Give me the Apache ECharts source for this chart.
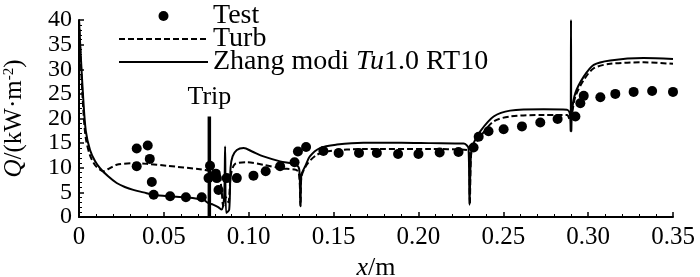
<!DOCTYPE html>
<html><head><meta charset="utf-8">
<script src="https://cdn.jsdelivr.net/npm/echarts@6/dist/echarts.min.js"></script>
<style>html,body{margin:0;padding:0;background:#fff}#c{width:700px;height:277px}</style>
</head><body><div id="c"></div>
<script>
const xTicks = [0, 0.05, 0.10, 0.15, 0.20, 0.25, 0.30, 0.35];
const yTicks = [0, 5, 10, 15, 20, 25, 30, 35, 40];
const testX = [0.034,0.034,0.0405,0.0417,0.0429,0.044,0.0537,0.063,0.0723,0.0772,0.0763,0.0812,0.0806,0.0822,0.087,0.093,0.1028,0.110,0.1185,0.127,0.129,0.1338,0.144,0.153,0.165,0.1755,0.188,0.200,0.2125,0.2236,0.2325,0.2355,0.2413,0.2502,0.261,0.2718,0.282,0.2925,0.2954,0.2974,0.3072,0.316,0.3268,0.3377,0.35];
const testY = [10.3,13.9,14.5,11.8,7.1,4.5,4.2,4.0,4.0,10.4,7.9,7.9,8.8,5.5,7.9,7.9,8.4,9.3,10.3,11.1,13.3,14.2,13.4,13.0,13.0,13.0,12.8,12.8,13.1,13.2,14.1,16.3,17.4,17.8,18.4,19.2,19.9,20.4,23.1,24.6,24.3,25.0,25.4,25.6,25.4];
const turbX = [0,0.001,0.0025,0.004,0.0065,0.0095,0.0124,0.0143,0.017,0.0222,0.032,0.04,0.0517,0.0713,0.0792,0.082,0.084,0.085,0.0865,0.088,0.0895,0.092,0.0988,0.1087,0.1185,0.1293,0.1305,0.131,0.1342,0.140,0.148,0.1676,0.207,0.2286,0.2298,0.2303,0.231,0.2325,0.2364,0.2443,0.254,0.2738,0.2875,0.2895,0.2905,0.2925,0.2974,0.3033,0.313,0.3327,0.35];
const turbY = [40,32,22,16,12.5,10.5,9.6,9.3,9.7,10.6,10.9,10.8,10.4,9.7,9.3,9.4,5.5,2.2,4,3,8.5,10.8,11.1,10.6,9.9,9.2,2.2,8,10.6,12.6,13.4,13.8,13.8,13.6,13,2.5,12.5,14.3,16.3,19.4,20.4,20.7,20.7,19.5,21,24.5,27.8,30.2,31.1,31.4,31.1];
const zhangX = [0,0.001,0.0025,0.004,0.0065,0.0095,0.0124,0.017,0.0222,0.027,0.032,0.038,0.044,0.053,0.063,0.0733,0.0763,0.079,0.082,0.084,0.0855,0.0861,0.0867,0.0885,0.0893,0.0905,0.093,0.097,0.102,0.1087,0.1185,0.128,0.1298,0.1305,0.131,0.1333,0.136,0.142,0.152,0.1676,0.19,0.207,0.2266,0.2295,0.2301,0.231,0.2325,0.2364,0.2443,0.254,0.2738,0.2875,0.2893,0.2897,0.2899,0.2901,0.2905,0.2925,0.2974,0.3033,0.313,0.3327,0.35];
const zhangY = [40,33,24,17.5,13.6,11.3,9.9,8.3,6.9,6.1,5.5,5.0,4.5,4.2,4.0,3.5,2.8,2.5,2.0,1.5,4,14.3,0.8,1.5,10,12.3,13.6,14.0,13.3,12.3,11.3,10.6,9.6,2.2,8.5,10.3,12.3,14.0,14.7,15.1,15.1,15.0,14.9,14.0,2.5,13,15.0,17.4,20.4,21.6,21.9,21.8,20.8,17.4,40,17.4,21.5,25.2,28.5,30.9,31.8,32.3,32.1];
const tripX = [0.0768, 0.0768];
const tripY = [0, 20.4];
const legendNames = ['Test', 'Turb', 'Zhang modi Tu1.0 RT10'];

const zip = (a, b) => a.map((v, i) => [v, b[i]]);
const FONT = 'Liberation Serif';
const chart = echarts.init(document.getElementById('c'), null, {renderer: 'canvas'});
chart.setOption({
  animation: false,
  backgroundColor: '#fff',
  textStyle: {fontFamily: FONT, color: '#000'},
  grid: {left: 79, right: 27, top: 20, bottom: 60, outerBoundsMode: 'none', containLabel: false},
  legend: {
    orient: 'vertical', left: 113, top: -3, itemWidth: 89, itemHeight: 10, itemGap: -5,
    data: [
      {name: legendNames[0]},
      {name: legendNames[1], itemStyle: {opacity: 0}},
      {name: legendNames[2], itemStyle: {opacity: 0}}
    ],
    textStyle: {fontFamily: FONT, fontSize: 28, lineHeight: 25, color: '#000', padding: [0,0,0,0],
      rich: {i: {fontFamily: FONT, fontSize: 28, fontStyle: 'italic', lineHeight: 25}, n: {fontFamily: FONT, fontSize: 28, lineHeight: 25}}},
    formatter: n => n === legendNames[2] ? '{n|Zhang modi }{i|Tu}{n|1.0 RT10}' : n
  },
  xAxis: {
    type: 'value', min: xTicks[0], max: xTicks[xTicks.length-1], interval: 0.05,
    axisLine: {lineStyle: {color: '#000', width: 2}},
    axisTick: {inside: true, length: 5, lineStyle: {color: '#000', width: 1.5}},
    minorTick: {show: true, splitNumber: 5, length: 3, lineStyle: {color: '#000'}},
    splitLine: {show: false},
    axisLabel: {fontFamily: FONT, fontSize: 25, color: '#000', margin: 8,
      showMinLabel: true, showMaxLabel: true,
      formatter: v => v === 0 ? '0' : v.toFixed(2)},
    name: '{i|x}{n|/m}', nameLocation: 'middle', nameGap: 38,
    nameTextStyle: {rich: {i: {fontFamily: FONT, fontSize: 26, fontStyle: 'italic'}, n: {fontFamily: FONT, fontSize: 26}}}
  },
  yAxis: {
    type: 'value', min: yTicks[0], max: yTicks[yTicks.length-1], interval: 5,
    axisLine: {show: true, lineStyle: {color: '#000', width: 2}},
    axisTick: {show: true, inside: true, length: 5, lineStyle: {color: '#000', width: 1.5}},
    minorTick: {show: true, splitNumber: 5, length: 3, lineStyle: {color: '#000'}},
    splitLine: {show: false},
    axisLabel: {fontFamily: FONT, fontSize: 24, color: '#000', margin: 7,
      showMinLabel: true, showMaxLabel: true},
    name: '{i|Q}{n|/(kW·m}{s|-2}{n|)}', nameLocation: 'middle', nameGap: 52, nameRotate: 90,
    nameTextStyle: {rich: {i: {fontFamily: FONT, fontSize: 25, fontStyle: 'italic'}, n: {fontFamily: FONT, fontSize: 25}, s: {fontFamily: FONT, fontSize: 15, verticalAlign: 'top'}}}
  },
  series: [
    {name: legendNames[0], type: 'scatter', data: zip(testX, testY), symbol: 'circle', symbolSize: 10,
      itemStyle: {color: '#000', opacity: 1}, z: 5},
    {name: legendNames[1], type: 'line', data: zip(turbX, turbY), symbol: 'none', smooth: 0.3,
      lineStyle: {color: '#000', width: 2, type: [6, 3]}, itemStyle: {color: '#000'}},
    {name: legendNames[2], type: 'line', data: zip(zhangX, zhangY), symbol: 'none', smooth: 0.3,
      lineStyle: {color: '#000', width: 2, type: 'solid'}, itemStyle: {color: '#000'}},
    {name: 'trip', type: 'line', data: zip(tripX, tripY), symbol: 'none',
      lineStyle: {color: '#000', width: 3.5}, z: 4},
    {name: 'tripLabel', type: 'scatter', data: [[tripX[1], tripY[1]]], symbolSize: 0,
      itemStyle: {opacity: 1},
      label: {show: true, position: 'top', distance: 6, formatter: 'Trip', fontFamily: FONT, fontSize: 26, color: '#000', opacity: 1}}
  ]
});
</script></body></html>
